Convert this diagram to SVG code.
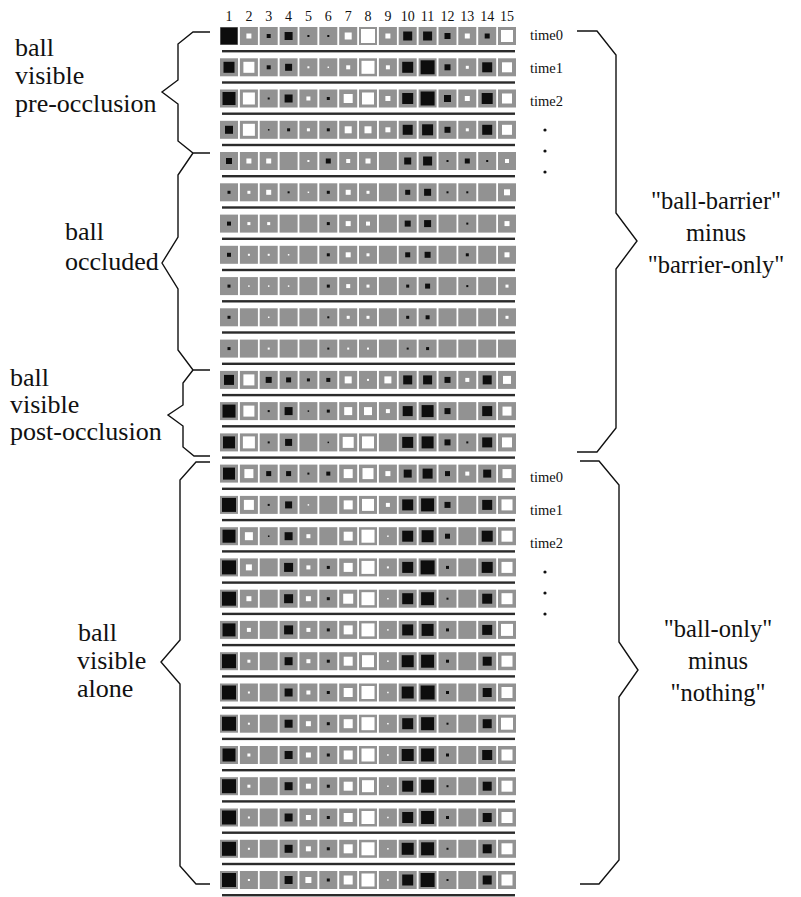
<svg xmlns="http://www.w3.org/2000/svg" xmlns:xlink="http://www.w3.org/1999/xlink" width="801" height="897" viewBox="0 0 801 897">
<style>
.t{font-family:"Liberation Serif","Times New Roman",serif;fill:#111}
.num{font-size:14px;text-anchor:middle}
.tm{font-size:14.5px}
.lab{font-size:26px}
.rl{font-size:24.5px;text-anchor:middle}
.br{fill:none;stroke:#111;stroke-width:1.4;stroke-linejoin:miter}
.g{fill:#929292}
.bar{fill:#2b2b2b}
.k{fill:#0d0d0d}
.w{fill:#fff}
</style>
<defs>
<g id="rowbg">
<rect class="g" x="220" y="-9" width="18" height="18"/><rect class="g" x="239.9" y="-9" width="18" height="18"/><rect class="g" x="259.7" y="-9" width="18" height="18"/><rect class="g" x="279.6" y="-9" width="18" height="18"/><rect class="g" x="299.4" y="-9" width="18" height="18"/><rect class="g" x="319.3" y="-9" width="18" height="18"/><rect class="g" x="339.2" y="-9" width="18" height="18"/><rect class="g" x="359" y="-9" width="18" height="18"/><rect class="g" x="378.9" y="-9" width="18" height="18"/><rect class="g" x="398.7" y="-9" width="18" height="18"/><rect class="g" x="418.6" y="-9" width="18" height="18"/><rect class="g" x="438.5" y="-9" width="18" height="18"/><rect class="g" x="458.3" y="-9" width="18" height="18"/><rect class="g" x="478.2" y="-9" width="18" height="18"/><rect class="g" x="498" y="-9" width="18" height="18"/>
<rect class="bar" x="222" y="14" width="293" height="2.4"/>
</g>
<rect id="b1" class="k" x="-0.75" y="-0.75" width="1.5" height="1.5"/>
<rect id="b2" class="k" x="-1" y="-1" width="2" height="2"/>
<rect id="b3" class="k" x="-1.5" y="-1.5" width="3" height="3"/>
<rect id="b4" class="k" x="-2" y="-2" width="4" height="4"/>
<rect id="b5" class="k" x="-2.5" y="-2.5" width="5" height="5"/>
<rect id="b6" class="k" x="-3" y="-3" width="6" height="6"/>
<rect id="b7" class="k" x="-3.5" y="-3.5" width="7" height="7"/>
<rect id="b8" class="k" x="-4" y="-4" width="8" height="8"/>
<rect id="b9" class="k" x="-4.5" y="-4.5" width="9" height="9"/>
<rect id="b10" class="k" x="-5" y="-5" width="10" height="10"/>
<rect id="b11" class="k" x="-5.5" y="-5.5" width="11" height="11"/>
<rect id="b12" class="k" x="-6" y="-6" width="12" height="12"/>
<rect id="b13" class="k" x="-6.5" y="-6.5" width="13" height="13"/>
<rect id="b14" class="k" x="-7" y="-7" width="14" height="14"/>
<rect id="b17" class="k" x="-8.5" y="-8.5" width="17" height="17"/>
<rect id="w1" class="w" x="-0.75" y="-0.75" width="1.5" height="1.5"/>
<rect id="w2" class="w" x="-1" y="-1" width="2" height="2"/>
<rect id="w3" class="w" x="-1.5" y="-1.5" width="3" height="3"/>
<rect id="w4" class="w" x="-2" y="-2" width="4" height="4"/>
<rect id="w5" class="w" x="-2.5" y="-2.5" width="5" height="5"/>
<rect id="w6" class="w" x="-3" y="-3" width="6" height="6"/>
<rect id="w7" class="w" x="-3.5" y="-3.5" width="7" height="7"/>
<rect id="w8" class="w" x="-4" y="-4" width="8" height="8"/>
<rect id="w9" class="w" x="-4.5" y="-4.5" width="9" height="9"/>
<rect id="w10" class="w" x="-5" y="-5" width="10" height="10"/>
<rect id="w11" class="w" x="-5.5" y="-5.5" width="11" height="11"/>
<rect id="w12" class="w" x="-6" y="-6" width="12" height="12"/>
<rect id="w13" class="w" x="-6.5" y="-6.5" width="13" height="13"/>
<rect id="w14" class="w" x="-7" y="-7" width="14" height="14"/>
</defs>
<rect width="801" height="897" fill="#fff"/>

<g id="column-numbers" class="t num" font-family="Liberation Serif, Times New Roman, serif">
<text x="229" y="21">1</text><text x="248.9" y="21">2</text><text x="268.7" y="21">3</text><text x="288.6" y="21">4</text><text x="308.4" y="21">5</text><text x="328.3" y="21">6</text><text x="348.2" y="21">7</text><text x="368" y="21">8</text><text x="387.9" y="21">9</text><text x="407.7" y="21">10</text><text x="427.6" y="21">11</text><text x="447.5" y="21">12</text><text x="467.3" y="21">13</text><text x="487.2" y="21">14</text><text x="507" y="21">15</text>
</g>

<g id="grid">
<g transform="translate(0,36)"><use href="#rowbg"/><use href="#b17" x="229"/><use href="#w5" x="248.9"/><use href="#b4" x="268.7"/><use href="#b8" x="288.6"/><use href="#b2" x="308.4"/><use href="#b2" x="328.3"/><use href="#w7" x="348.2"/><use href="#w14" x="368"/><use href="#w5" x="387.9"/><use href="#b9" x="407.7"/><use href="#b9" x="427.6"/><use href="#b6" x="447.5"/><use href="#w5" x="467.3"/><use href="#b5" x="487.2"/><use href="#w12" x="507"/></g>
<g transform="translate(0,67.3)"><use href="#rowbg"/><use href="#b11" x="229"/><use href="#w11" x="248.9"/><use href="#b4" x="268.7"/><use href="#b7" x="288.6"/><use href="#w2" x="308.4"/><use href="#w1" x="328.3"/><use href="#w4" x="348.2"/><use href="#w13" x="368"/><use href="#w4" x="387.9"/><use href="#b11" x="407.7"/><use href="#b14" x="427.6"/><use href="#b6" x="447.5"/><use href="#w3" x="467.3"/><use href="#b10" x="487.2"/><use href="#w10" x="507"/></g>
<g transform="translate(0,98.5)"><use href="#rowbg"/><use href="#b13" x="229"/><use href="#w12" x="248.9"/><use href="#b2" x="268.7"/><use href="#b8" x="288.6"/><use href="#w4" x="308.4"/><use href="#b3" x="328.3"/><use href="#w9" x="348.2"/><use href="#w12" x="368"/><use href="#w5" x="387.9"/><use href="#b11" x="407.7"/><use href="#b14" x="427.6"/><use href="#b7" x="447.5"/><use href="#w5" x="467.3"/><use href="#b11" x="487.2"/><use href="#w10" x="507"/></g>
<g transform="translate(0,129.8)"><use href="#rowbg"/><use href="#b8" x="229"/><use href="#w12" x="248.9"/><use href="#b1" x="268.7"/><use href="#b3" x="288.6"/><use href="#w3" x="308.4"/><use href="#b3" x="328.3"/><use href="#w7" x="348.2"/><use href="#w7" x="368"/><use href="#w5" x="387.9"/><use href="#b10" x="407.7"/><use href="#b11" x="427.6"/><use href="#b6" x="447.5"/><use href="#w3" x="467.3"/><use href="#b10" x="487.2"/><use href="#w10" x="507"/></g>
<g transform="translate(0,161)"><use href="#rowbg"/><use href="#b6" x="229"/><use href="#w5" x="248.9"/><use href="#w5" x="268.7"/><use href="#w2" x="308.4"/><use href="#b5" x="328.3"/><use href="#w4" x="348.2"/><use href="#w5" x="368"/><use href="#b7" x="407.7"/><use href="#b9" x="427.6"/><use href="#b2" x="447.5"/><use href="#b5" x="467.3"/><use href="#b2" x="487.2"/><use href="#w4" x="507"/></g>
<g transform="translate(0,192.3)"><use href="#rowbg"/><use href="#b3" x="229"/><use href="#w3" x="248.9"/><use href="#w5" x="268.7"/><use href="#b2" x="288.6"/><use href="#w1" x="308.4"/><use href="#b3" x="328.3"/><use href="#w5" x="348.2"/><use href="#w3" x="368"/><use href="#b5" x="407.7"/><use href="#b7" x="427.6"/><use href="#b2" x="447.5"/><use href="#b2" x="467.3"/><use href="#w6" x="507"/></g>
<g transform="translate(0,223.6)"><use href="#rowbg"/><use href="#b4" x="229"/><use href="#w3" x="248.9"/><use href="#w3" x="268.7"/><use href="#b3" x="328.3"/><use href="#w5" x="348.2"/><use href="#w4" x="368"/><use href="#b6" x="407.7"/><use href="#b7" x="427.6"/><use href="#b2" x="467.3"/><use href="#w5" x="507"/></g>
<g transform="translate(0,254.8)"><use href="#rowbg"/><use href="#b4" x="229"/><use href="#w2" x="248.9"/><use href="#w2" x="268.7"/><use href="#w1" x="288.6"/><use href="#b3" x="328.3"/><use href="#w5" x="348.2"/><use href="#w3" x="368"/><use href="#b5" x="407.7"/><use href="#b6" x="427.6"/><use href="#b3" x="467.3"/><use href="#w5" x="507"/></g>
<g transform="translate(0,286.1)"><use href="#rowbg"/><use href="#b3" x="229"/><use href="#w1" x="248.9"/><use href="#w1" x="268.7"/><use href="#w1" x="288.6"/><use href="#b3" x="328.3"/><use href="#w4" x="348.2"/><use href="#w3" x="368"/><use href="#b3" x="407.7"/><use href="#b5" x="427.6"/><use href="#b2" x="467.3"/><use href="#w3" x="507"/></g>
<g transform="translate(0,317.3)"><use href="#rowbg"/><use href="#b3" x="229"/><use href="#w1" x="268.7"/><use href="#b2" x="328.3"/><use href="#w3" x="348.2"/><use href="#w3" x="368"/><use href="#b3" x="407.7"/><use href="#b4" x="427.6"/><use href="#w3" x="507"/></g>
<g transform="translate(0,348.6)"><use href="#rowbg"/><use href="#b3" x="229"/><use href="#w2" x="268.7"/><use href="#b2" x="328.3"/><use href="#w2" x="348.2"/><use href="#w2" x="368"/><use href="#b2" x="407.7"/><use href="#b3" x="427.6"/></g>
<g transform="translate(0,379.9)"><use href="#rowbg"/><use href="#b10" x="229"/><use href="#w11" x="248.9"/><use href="#b6" x="268.7"/><use href="#b5" x="288.6"/><use href="#b3" x="308.4"/><use href="#b4" x="328.3"/><use href="#w7" x="348.2"/><use href="#w2" x="368"/><use href="#w7" x="387.9"/><use href="#b9" x="407.7"/><use href="#b9" x="427.6"/><use href="#b6" x="447.5"/><use href="#w4" x="467.3"/><use href="#b9" x="487.2"/><use href="#w8" x="507"/></g>
<g transform="translate(0,411.1)"><use href="#rowbg"/><use href="#b13" x="229"/><use href="#w11" x="248.9"/><use href="#b2" x="268.7"/><use href="#b8" x="288.6"/><use href="#b1" x="308.4"/><use href="#b3" x="328.3"/><use href="#w8" x="348.2"/><use href="#w8" x="368"/><use href="#w4" x="387.9"/><use href="#b10" x="407.7"/><use href="#b12" x="427.6"/><use href="#b6" x="447.5"/><use href="#b10" x="487.2"/><use href="#w9" x="507"/></g>
<g transform="translate(0,442.4)"><use href="#rowbg"/><use href="#b12" x="229"/><use href="#w12" x="248.9"/><use href="#b2" x="268.7"/><use href="#b7" x="288.6"/><use href="#b1" x="328.3"/><use href="#w11" x="348.2"/><use href="#w12" x="368"/><use href="#b11" x="407.7"/><use href="#b12" x="427.6"/><use href="#b6" x="447.5"/><use href="#b2" x="467.3"/><use href="#b10" x="487.2"/><use href="#w10" x="507"/></g>
<g transform="translate(0,473.6)"><use href="#rowbg"/><use href="#b12" x="229"/><use href="#w9" x="248.9"/><use href="#b5" x="268.7"/><use href="#b5" x="288.6"/><use href="#b2" x="308.4"/><use href="#b4" x="328.3"/><use href="#w9" x="348.2"/><use href="#w11" x="368"/><use href="#w5" x="387.9"/><use href="#b8" x="407.7"/><use href="#b10" x="427.6"/><use href="#b5" x="447.5"/><use href="#w4" x="467.3"/><use href="#b8" x="487.2"/><use href="#w9" x="507"/></g>
<g transform="translate(0,504.9)"><use href="#rowbg"/><use href="#b14" x="229"/><use href="#w10" x="248.9"/><use href="#b2" x="268.7"/><use href="#b7" x="288.6"/><use href="#w1" x="308.4"/><use href="#w9" x="348.2"/><use href="#w12" x="368"/><use href="#w4" x="387.9"/><use href="#b11" x="407.7"/><use href="#b13" x="427.6"/><use href="#b6" x="447.5"/><use href="#b10" x="487.2"/><use href="#w11" x="507"/></g>
<g transform="translate(0,536.2)"><use href="#rowbg"/><use href="#b13" x="229"/><use href="#w8" x="248.9"/><use href="#b1" x="268.7"/><use href="#b8" x="288.6"/><use href="#w4" x="308.4"/><use href="#w9" x="348.2"/><use href="#w13" x="368"/><use href="#w1" x="387.9"/><use href="#b11" x="407.7"/><use href="#b12" x="427.6"/><use href="#b5" x="447.5"/><use href="#b11" x="487.2"/><use href="#w11" x="507"/></g>
<g transform="translate(0,567.4)"><use href="#rowbg"/><use href="#b14" x="229"/><use href="#w6" x="248.9"/><use href="#b9" x="288.6"/><use href="#w4" x="308.4"/><use href="#b3" x="328.3"/><use href="#w9" x="348.2"/><use href="#w13" x="368"/><use href="#w2" x="387.9"/><use href="#b11" x="407.7"/><use href="#b14" x="427.6"/><use href="#b3" x="447.5"/><use href="#b11" x="487.2"/><use href="#w11" x="507"/></g>
<g transform="translate(0,598.7)"><use href="#rowbg"/><use href="#b14" x="229"/><use href="#w5" x="248.9"/><use href="#b9" x="288.6"/><use href="#w5" x="308.4"/><use href="#b3" x="328.3"/><use href="#w10" x="348.2"/><use href="#w13" x="368"/><use href="#w1" x="387.9"/><use href="#b11" x="407.7"/><use href="#b13" x="427.6"/><use href="#b2" x="447.5"/><use href="#b10" x="487.2"/><use href="#w11" x="507"/></g>
<g transform="translate(0,629.9)"><use href="#rowbg"/><use href="#b13" x="229"/><use href="#w4" x="248.9"/><use href="#b9" x="288.6"/><use href="#w4" x="308.4"/><use href="#b3" x="328.3"/><use href="#w9" x="348.2"/><use href="#w13" x="368"/><use href="#w1" x="387.9"/><use href="#b11" x="407.7"/><use href="#b12" x="427.6"/><use href="#b3" x="447.5"/><use href="#b10" x="487.2"/><use href="#w12" x="507"/></g>
<g transform="translate(0,661.2)"><use href="#rowbg"/><use href="#b14" x="229"/><use href="#w3" x="248.9"/><use href="#b8" x="288.6"/><use href="#w4" x="308.4"/><use href="#b3" x="328.3"/><use href="#w9" x="348.2"/><use href="#w12" x="368"/><use href="#w1" x="387.9"/><use href="#b12" x="407.7"/><use href="#b13" x="427.6"/><use href="#b3" x="447.5"/><use href="#b9" x="487.2"/><use href="#w11" x="507"/></g>
<g transform="translate(0,692.5)"><use href="#rowbg"/><use href="#b14" x="229"/><use href="#w2" x="248.9"/><use href="#b8" x="288.6"/><use href="#w4" x="308.4"/><use href="#b3" x="328.3"/><use href="#w9" x="348.2"/><use href="#w13" x="368"/><use href="#w1" x="387.9"/><use href="#b12" x="407.7"/><use href="#b14" x="427.6"/><use href="#b3" x="447.5"/><use href="#b9" x="487.2"/><use href="#w11" x="507"/></g>
<g transform="translate(0,723.7)"><use href="#rowbg"/><use href="#b14" x="229"/><use href="#w2" x="248.9"/><use href="#b8" x="288.6"/><use href="#w5" x="308.4"/><use href="#b3" x="328.3"/><use href="#w9" x="348.2"/><use href="#w13" x="368"/><use href="#w1" x="387.9"/><use href="#b11" x="407.7"/><use href="#b13" x="427.6"/><use href="#b2" x="447.5"/><use href="#b9" x="487.2"/><use href="#w12" x="507"/></g>
<g transform="translate(0,755)"><use href="#rowbg"/><use href="#b13" x="229"/><use href="#w3" x="248.9"/><use href="#b8" x="288.6"/><use href="#w5" x="308.4"/><use href="#b3" x="328.3"/><use href="#w9" x="348.2"/><use href="#w13" x="368"/><use href="#w1" x="387.9"/><use href="#b12" x="407.7"/><use href="#b13" x="427.6"/><use href="#b3" x="447.5"/><use href="#b10" x="487.2"/><use href="#w11" x="507"/></g>
<g transform="translate(0,786.2)"><use href="#rowbg"/><use href="#b14" x="229"/><use href="#w3" x="248.9"/><use href="#b8" x="288.6"/><use href="#w5" x="308.4"/><use href="#b3" x="328.3"/><use href="#w9" x="348.2"/><use href="#w12" x="368"/><use href="#w1" x="387.9"/><use href="#b11" x="407.7"/><use href="#b13" x="427.6"/><use href="#b2" x="447.5"/><use href="#b9" x="487.2"/><use href="#w11" x="507"/></g>
<g transform="translate(0,817.5)"><use href="#rowbg"/><use href="#b14" x="229"/><use href="#w2" x="248.9"/><use href="#b8" x="288.6"/><use href="#w5" x="308.4"/><use href="#b3" x="328.3"/><use href="#w9" x="348.2"/><use href="#w13" x="368"/><use href="#w1" x="387.9"/><use href="#b11" x="407.7"/><use href="#b13" x="427.6"/><use href="#b3" x="447.5"/><use href="#b9" x="487.2"/><use href="#w11" x="507"/></g>
<g transform="translate(0,848.8)"><use href="#rowbg"/><use href="#b14" x="229"/><use href="#w2" x="248.9"/><use href="#b8" x="288.6"/><use href="#w5" x="308.4"/><use href="#b3" x="328.3"/><use href="#w9" x="348.2"/><use href="#w13" x="368"/><use href="#w1" x="387.9"/><use href="#b12" x="407.7"/><use href="#b13" x="427.6"/><use href="#b2" x="447.5"/><use href="#b9" x="487.2"/><use href="#w11" x="507"/></g>
<g transform="translate(0,880)"><use href="#rowbg"/><use href="#b14" x="229"/><use href="#w2" x="248.9"/><use href="#b8" x="288.6"/><use href="#w6" x="308.4"/><use href="#b3" x="328.3"/><use href="#w9" x="348.2"/><use href="#w13" x="368"/><use href="#w1" x="387.9"/><use href="#b11" x="407.7"/><use href="#b14" x="427.6"/><use href="#b2" x="447.5"/><use href="#b9" x="487.2"/><use href="#w11" x="507"/></g>
</g>

<g id="braces">
<path class="br" d="M210,32 H193 L178,44 V80 L162,92 L178,104 V141 L193,153 H210"/>
<path class="br" d="M193,153 L178,175 V237 L162,263 L178,289 V350 L193,370 H210"/>
<path class="br" d="M193,370 L183,383 V405 L168,415 L183,426 V447 L194,456 H210"/>
<path class="br" d="M210,462 H196 L180,480 V640 L161,662 L180,684 V866 L196,884 H210"/>
<path class="br" d="M577,31 H597 L616,55 V213 L637,241 L616,269 V428 L597,452 H577"/>
<path class="br" d="M580,461 H599 L619,485 V642 L638,670 L619,697 V860 L599,884 H580"/>
</g>

<g id="time-labels" class="t tm" font-family="Liberation Serif, Times New Roman, serif">
<text x="530" y="40">time0</text><text x="530" y="73">time1</text><text x="530" y="105.5">time2</text>
<text x="530" y="482">time0</text><text x="530" y="515">time1</text><text x="530" y="547.5">time2</text>
</g>
<g id="ellipses" fill="#111">
<circle cx="545" cy="130" r="1.6"/><circle cx="545" cy="151" r="1.6"/><circle cx="545" cy="172" r="1.6"/>
<circle cx="545" cy="572" r="1.6"/><circle cx="545" cy="593" r="1.6"/><circle cx="545" cy="614" r="1.6"/>
</g>

<g id="label-pre" class="t lab" font-family="Liberation Serif, Times New Roman, serif"><text x="15" y="56">ball</text><text x="15" y="84">visible</text><text x="15" y="112">pre-occlusion</text></g>
<g id="label-occluded" class="t lab" font-family="Liberation Serif, Times New Roman, serif"><text x="65" y="240">ball</text><text x="65" y="270">occluded</text></g>
<g id="label-post" class="t lab" font-family="Liberation Serif, Times New Roman, serif"><text x="10" y="386">ball</text><text x="10" y="413">visible</text><text x="10" y="440">post-occlusion</text></g>
<g id="label-alone" class="t lab" font-family="Liberation Serif, Times New Roman, serif"><text x="78" y="641">ball</text><text x="77" y="669">visible</text><text x="77" y="697">alone</text></g>
<g id="label-barrier" class="t rl" font-family="Liberation Serif, Times New Roman, serif"><text x="716" y="209">"ball-barrier"</text><text x="716" y="241">minus</text><text x="716" y="273">"barrier-only"</text></g>
<g id="label-only" class="t rl" font-family="Liberation Serif, Times New Roman, serif"><text x="718" y="637">"ball-only"</text><text x="718" y="669">minus</text><text x="718" y="701">"nothing"</text></g>
</svg>
